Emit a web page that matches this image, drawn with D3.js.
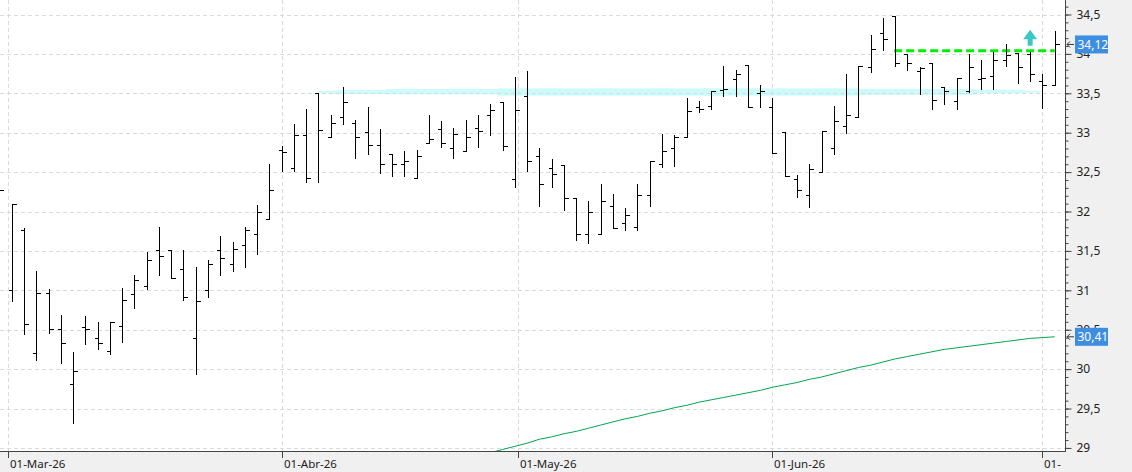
<!DOCTYPE html>
<html lang="es">
<head>
<meta charset="UTF-8">
<title>OHLC diario</title>
<script src="https://cdn.jsdelivr.net/npm/d3@7"></script>
<style>
  body { margin: 0; background: #fff; }
  svg { display: block; font-family: "Noto Sans", sans-serif; }
</style>
</head>
<body>
<script>

    // sesiones: dias laborables entre estas fechas, menos festivos
    var firstDay = "2026-02-27", lastDay = "2026-07-02";
    var holidays = ["2026-04-03", "2026-04-06", "2026-05-01"];

    // OHLC por sesion (la primera queda cortada a la izquierda)
    var opens = [32.40, 31.01, 31.77, 30.21, 30.96, 30.51, 29.81, 30.53, 30.39, 30.23, 30.55, 30.95, 31.06, 31.51, 31.51,
        31.27, 30.40, 31.01, 31.51, 31.33, 31.57, 31.72, 31.90, 32.78, 32.55, 32.97, 33.50, 32.94, 33.20, 33.12,
        33.01, 32.84, 32.73, 32.60, 32.42, 32.87, 33.05, 32.80, 32.77, 33.06, 33.22, 33.39, 32.41, 33.47, 32.70,
        32.55, 32.59, 32.17, 31.71, 31.71, 32.07, 31.86, 31.80, 32.21, 32.60, 32.80, 32.94, 33.32, 33.34, 33.54,
        33.68, 33.86, 33.50, 33.32, 33.01, 32.41, 32.21, 32.50, 32.81, 33.08, 33.20, 33.84, 34.26, 34.48, 34.00,
        33.78, 33.89, 33.58, 33.40, 33.53, 33.68, 33.72, 33.92, 34.01, 34.00, 33.66, 33.60];
    var highs = [32.50, 32.10, 31.79, 31.24, 31.02, 30.69, 30.22, 30.67, 30.60, 30.60, 31.03, 31.19, 31.49, 31.80, 31.51,
        31.51, 31.29, 31.38, 31.69, 31.61, 31.80, 32.08, 32.60, 32.83, 33.11, 33.30, 33.50, 33.22, 33.58, 33.16,
        33.33, 33.05, 32.73, 32.77, 32.78, 33.22, 33.15, 33.06, 33.16, 33.22, 33.36, 33.39, 33.71, 33.78, 32.80,
        32.67, 32.59, 32.17, 32.13, 32.35, 32.22, 32.04, 32.35, 32.64, 32.98, 32.97, 33.44, 33.40, 33.53, 33.85,
        33.80, 33.86, 33.60, 33.44, 33.01, 32.46, 32.60, 33.02, 33.34, 33.74, 33.85, 34.24, 34.45, 34.48, 34.00,
        33.84, 33.89, 33.58, 33.70, 34.00, 33.92, 34.02, 34.13, 34.01, 34.02, 33.75, 34.29];
    var lows = [32.20, 30.87, 30.45, 30.12, 30.46, 30.08, 29.31, 30.32, 30.25, 30.19, 30.35, 30.77, 31.02, 31.20, 31.15,
        30.88, 29.94, 30.91, 31.20, 31.24, 31.29, 31.46, 31.90, 32.52, 32.52, 32.38, 32.38, 32.94, 33.11, 32.68,
        32.73, 32.49, 32.45, 32.45, 32.42, 32.87, 32.82, 32.68, 32.77, 32.82, 32.97, 32.78, 32.31, 32.52, 32.07,
        32.31, 32.02, 31.64, 31.60, 31.71, 31.79, 31.76, 31.76, 32.07, 32.56, 32.58, 32.94, 33.26, 33.30, 33.47,
        33.47, 33.32, 33.32, 32.74, 32.45, 32.18, 32.06, 32.50, 32.73, 33.00, 33.20, 33.77, 34.05, 33.85, 33.80,
        33.49, 33.30, 33.36, 33.30, 33.52, 33.55, 33.55, 33.85, 33.63, 33.65, 33.31, 33.60];
    var closes = [32.27, 32.10, 30.57, 30.96, 30.51, 30.33, 29.97, 30.51, 30.33, 30.60, 30.88, 31.13, 31.38, 31.43, 31.15,
        30.92, 30.87, 31.34, 31.41, 31.52, 31.76, 32.00, 32.27, 32.76, 32.97, 32.42, 33.04, 33.12, 33.39, 32.94,
        32.84, 32.60, 32.60, 32.64, 32.70, 32.92, 32.87, 32.98, 32.94, 33.02, 33.29, 32.83, 33.29, 32.64, 32.35,
        32.48, 32.17, 31.71, 31.99, 32.13, 31.79, 31.96, 32.21, 32.64, 32.77, 32.95, 33.28, 33.30, 33.53, 33.56,
        33.74, 33.32, 33.53, 32.74, 32.45, 32.27, 32.54, 33.02, 33.15, 33.22, 33.85, 34.06, 34.19, 33.88, 33.88,
        33.82, 33.42, 33.53, 33.70, 33.84, 33.70, 33.92, 33.98, 33.84, 33.74, 33.60, 34.12];

    // media movil larga (solo visible desde finales de abril)
    var sma = [null, null, null, null, null, null, null, null, null, null, null, null, null, null, null,
        null, null, null, null, null, null, null, null, null, null, null, null, null, null, null,
        null, null, null, null, null, null, null, null, null, null, 28.94, 28.98, 29.02, 29.06, 29.11,
        29.14, 29.18, 29.21, 29.25, 29.29, 29.33, 29.37, 29.40, 29.44, 29.47, 29.51, 29.54, 29.58, 29.61, 29.64,
        29.67, 29.70, 29.73, 29.77, 29.80, 29.83, 29.87, 29.90, 29.94, 29.98, 30.02, 30.05, 30.09, 30.13, 30.16,
        30.19, 30.22, 30.25, 30.27, 30.29, 30.31, 30.33, 30.35, 30.37, 30.39, 30.40, 30.41];

    // zona de soporte (tramos en numero de sesion)
    var zoneFrom = [26.02, 27.35, 31.5, 40.63, 70.13, 79.51, 83.58];
    var zoneTo = [27.35, 31.5, 40.63, 70.13, 79.51, 83.58, 84.88];
    var zoneHi = [33.53, 33.54, 33.555, 33.563, 33.555, 33.546, 33.533];
    var zoneLo = [33.50, 33.49, 33.487, 33.47, 33.48, 33.50, 33.508];

    // resistencia y senal de compra
    var resFrom = 73, resTo = 86, resPrice = 34.04;
    var signalBar = 84, signalPrice = 34.105;

    var tickDates = ["2026-03-01", "2026-04-01", "2026-05-01", "2026-06-01", "2026-07-01"];
    var tickLabels = ["01-Mar-26", "01-Abr-26", "01-May-26", "01-Jun-26", "01-"];
    var priceTicks = [29, 29.5, 30, 30.5, 31, 31.5, 32, 32.5, 33, 33.5, 34, 34.5];

    var W = 1132, H = 472, plotW = 1065, plotH = 451;

    var parse = d3.utcParse("%Y-%m-%d");
    var fmtDay = d3.utcFormat("%Y-%m-%d");
    var dates = d3.utcDay.range(parse(firstDay), d3.utcDay.offset(parse(lastDay), 1))
        .filter(function (d) {
            var wd = d.getUTCDay();
            return wd !== 0 && wd !== 6 && holidays.indexOf(fmtDay(d)) < 0;
        });

    // posicion de una fecha de calendario entre dos sesiones
    function datePos(s) {
        var d = parse(s);
        for (var i = 0; i < dates.length - 1; i++) {
            if (d >= dates[i] && d < dates[i + 1]) {
                return i + (d - dates[i]) / (dates[i + 1] - dates[i]);
            }
        }
        return dates.length - 1;
    }

    var locale = d3.formatLocale({decimal: ",", thousands: ".", grouping: [3], currency: ["", "€"]});
    var fmt = locale.format("~g");
    var fmt2 = locale.format(".2f");

    var x = d3.scaleLinear().domain([0.046, 86.84]).range([0, plotW]);
    var y = d3.scaleLinear().domain([28.961, 34.684]).range([plotH, 0]);

    var svg = d3.select("body").append("svg").attr("width", W).attr("height", H);

    svg.append("rect").attr("width", W).attr("height", H).attr("fill", "#f0f0f0");
    svg.append("rect").attr("width", plotW).attr("height", plotH).attr("fill", "#fff");

    svg.append("clipPath").attr("id", "clip")
        .append("rect").attr("width", plotW).attr("height", plotH);
    var plot = svg.append("g").attr("clip-path", "url(#clip)");

    //zona soporte
    plot.selectAll("rect.zone").data(zoneFrom).enter().append("rect").attr("class", "zone")
        .attr("x", function (d) { return x(d); })
        .attr("width", function (d, i) { return x(zoneTo[i]) - x(d); })
        .attr("y", function (d, i) { return y(zoneHi[i]); })
        .attr("height", function (d, i) { return y(zoneLo[i]) - y(zoneHi[i]); })
        .attr("fill", "#ccfbfb");

    //grid
    plot.selectAll("line.hgrid").data(priceTicks).enter().append("line").attr("class", "hgrid")
        .attr("x1", 0).attr("x2", plotW)
        .attr("y1", function (d) { return Math.round(y(d)) + 0.5; })
        .attr("y2", function (d) { return Math.round(y(d)) + 0.5; })
        .attr("stroke", "#dadada").attr("stroke-dasharray", "4,3");
    plot.selectAll("line.vgrid").data(tickDates).enter().append("line").attr("class", "vgrid")
        .attr("y1", 0).attr("y2", plotH)
        .attr("x1", function (d) { return Math.round(x(datePos(d))) + 0.5; })
        .attr("x2", function (d) { return Math.round(x(datePos(d))) + 0.5; })
        .attr("stroke", "#dadada").attr("stroke-dasharray", "4,3");

    //media
    var line = d3.line()
        .defined(function (d) { return d != null; })
        .x(function (d, i) { return x(i); })
        .y(function (d) { return y(d); });
    plot.append("path").datum(sma).attr("d", line)
        .attr("fill", "none").attr("stroke", "#00a650").attr("stroke-width", 1);

    //resistencia
    plot.append("line")
        .attr("x1", x(resFrom) - 1).attr("x2", x(resTo))
        .attr("y1", y(resPrice)).attr("y2", y(resPrice))
        .attr("stroke", "#00ee00").attr("stroke-width", 3).attr("stroke-dasharray", "8,4");

    //barras OHLC
    function px(v) { return Math.round(v) + 0.5; }
    plot.selectAll("path.bar").data(opens).enter().append("path").attr("class", "bar")
        .attr("d", function (o, i) {
            var cx = px(x(i));
            var yo = px(y(o)), yc = px(y(closes[i]));
            return "M" + cx + "," + Math.round(y(highs[i])) + "V" + (Math.round(y(lows[i])) + 1) +
                "M" + (cx - 4) + "," + yo + "H" + cx +
                "M" + cx + "," + yc + "H" + (cx + 4);
        })
        .attr("fill", "none").attr("stroke", "#000").attr("stroke-width", 1)
        .attr("shape-rendering", "crispEdges");

    //flecha senal
    var ax = x(signalBar), ay = y(signalPrice);
    plot.append("path")
        .attr("d", "M" + (ax - 2.5) + "," + ay + "V" + (ay - 6.5) + "H" + (ax - 7) + "L" + ax + "," + (ay - 16) +
            "L" + (ax + 7) + "," + (ay - 6.5) + "H" + (ax + 2.5) + "V" + ay + "Z")
        .attr("fill", "#3cc6c8");

    //ejes
    var xAxisG = svg.append("g");
    xAxisG.append("line").attr("x1", 0).attr("x2", plotW + 1)
        .attr("y1", plotH + 0.5).attr("y2", plotH + 0.5).attr("stroke", "#444");
    var xt = xAxisG.selectAll("g.xt").data(tickDates).enter().append("g").attr("class", "xt")
        .attr("transform", function (d) { return "translate(" + (Math.round(x(datePos(d))) + 0.5) + ",0)"; });
    xt.append("line").attr("y1", plotH).attr("y2", plotH + 7).attr("stroke", "#444");
    xt.append("text").attr("x", 1.5).attr("y", 468)
        .attr("font-size", "11.5px").attr("fill", "#222")
        .text(function (d, i) { return tickLabels[i]; });

    var yAxis = d3.axisRight(y).tickValues(priceTicks).tickSize(6).tickPadding(5).tickFormat(fmt);
    var yMinor = d3.axisRight(y).tickValues(d3.range(290, 347, 1).map(function (v) { return v / 10; }))
        .tickSize(3).tickFormat("");
    svg.append("g").attr("transform", "translate(" + (plotW + 0.5) + ",0)").call(yMinor)
        .call(function (g) { g.select(".domain").remove(); })
        .selectAll("line").attr("stroke", "#444");
    var yg = svg.append("g").attr("transform", "translate(" + (plotW + 0.5) + ",0)").call(yAxis);
    yg.select(".domain").attr("stroke", "#444").attr("d", "M0,0V" + (plotH + 1));
    yg.selectAll("line").attr("stroke", "#444");
    yg.selectAll("text").attr("font-size", "12px").attr("fill", "#222")
        .attr("font-family", "Noto Sans, sans-serif");

    //etiquetas de precio
    var tags = [closes[closes.length - 1], sma[sma.length - 1]];
    var tag = svg.selectAll("g.tag").data(tags).enter().append("g").attr("class", "tag")
        .attr("transform", function (d) { return "translate(0," + y(d) + ")"; });
    tag.append("rect").attr("x", 1075).attr("y", -9).attr("width", 33).attr("height", 18)
        .attr("fill", "#3d8ee3");
    tag.append("text").attr("x", 1077.5).attr("y", 4.5)
        .attr("font-size", "12px").attr("fill", "#fff")
        .text(function (d) { return fmt2(d); });
    tag.append("path").attr("d", "M1067,0H1074M1070,-3L1067,0L1070,3")
        .attr("fill", "none").attr("stroke", "#333").attr("stroke-width", 1);

</script>
</body>
</html>
